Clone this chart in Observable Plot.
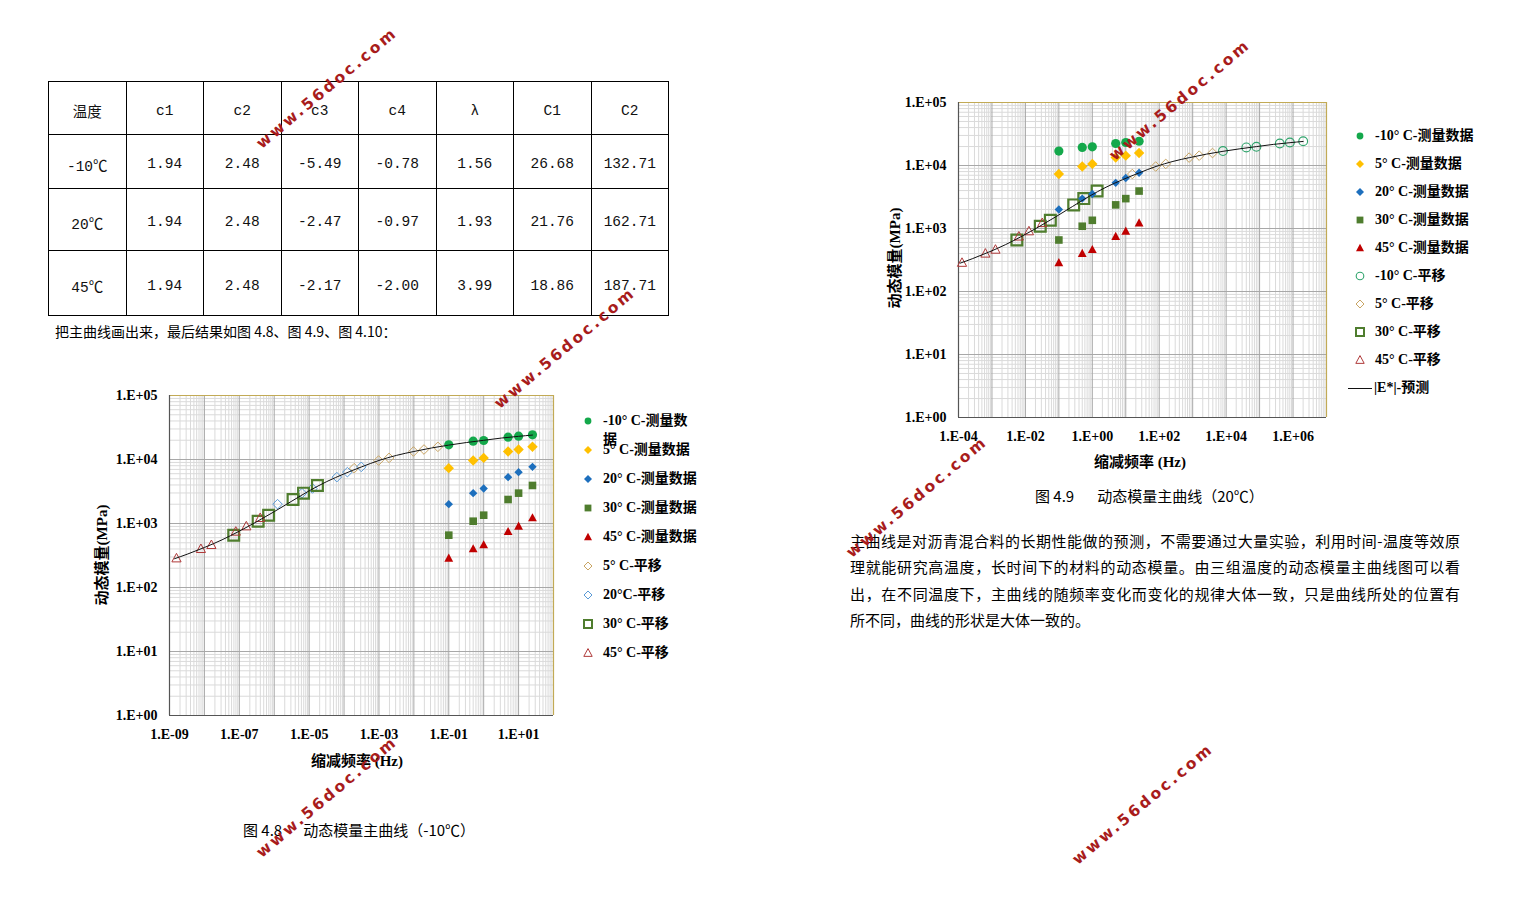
<!DOCTYPE html>
<html><head><meta charset="utf-8">
<script src="https://cdn.jsdelivr.net/npm/d3@7"></script>
<script src="https://cdn.jsdelivr.net/npm/@observablehq/plot@0.6"></script>
<style>
html,body{margin:0;padding:0;background:#fff;}
body{width:1514px;height:905px;position:relative;overflow:hidden;font-family:"Noto Sans CJK SC",sans-serif;color:#000;}
.abs{position:absolute;}
table.params{border-collapse:collapse;position:absolute;left:48px;top:81px;table-layout:fixed;width:621px;}
table.params td{border:1px solid #000;text-align:center;padding:5px 0 0 0;font-family:"Liberation Mono","Noto Sans CJK SC",monospace;font-size:14.5px;color:#111;}
.intro{left:55px;top:321px;font-size:14px;white-space:pre;}
.cap{font-size:15px;white-space:pre;}
.para{left:850px;top:528px;width:610px;font-size:15px;line-height:26.3px;}
.para div{text-align:justify;text-align-last:justify;}
.para div.last{text-align-last:left;}
.axlab{font-family:"Liberation Serif","Noto Sans CJK SC",serif;font-weight:bold;font-size:15px;white-space:nowrap;}
.leg{font-family:"Liberation Serif","Noto Sans CJK SC",serif;font-weight:bold;font-size:14px;white-space:nowrap;line-height:16px;}
.wm{font-family:"DejaVu Sans",sans-serif;font-weight:bold;font-size:15.5px;letter-spacing:2.8px;color:#a81c1c;white-space:nowrap;transform:translate(-50%,-50%) rotate(-40deg);z-index:10;}
</style>
</head><body>
<script>
// ---------------- DATA ----------------
const tableHeader = ["温度", "c1", "c2", "c3", "c4", "λ", "C1", "C2"];
const tableTemps = ["-10℃", "20℃", "45℃"];
const tableC1 = ["1.94", "1.94", "1.94"];
const tableC2 = ["2.48", "2.48", "2.48"];
const tableC3 = ["-5.49", "-2.47", "-2.17"];
const tableC4 = ["-0.78", "-0.97", "-2.00"];
const tableLambda = ["1.56", "1.93", "3.99"];
const tableBigC1 = ["26.68", "21.76", "18.86"];
const tableBigC2 = ["132.71", "162.71", "187.71"];

// measured loading frequencies (Hz)
const freq = [0.1, 0.5, 1, 5, 10, 25];
// measured dynamic modulus (MPa)
const modM10 = [16950, 19330, 19800, 22340, 23180, 24270];
const mod5   = [7320, 9640, 10600, 13340, 14330, 15780];
const mod20  = [2005, 2980, 3525, 5300, 6340, 7670];
const mod30  = [657, 1086, 1349, 2371, 2980, 3930];
const mod45  = [287, 402, 464, 750, 908, 1227];
// log10 shift factors, relative to -10 °C
const shiftM10 = 0, shift5 = -2.71, shift20 = -4.905, shift30 = -6.16, shift45 = -7.80;
// master curve (reduced frequency at -10 °C, MPa)
const curveFreq = [1.4e-9, 3.2e-9, 1e-8, 3.2e-8, 1e-7, 3.2e-7, 1e-6, 3.2e-6, 1e-5, 3.2e-5, 1e-4, 3.2e-4, 1e-3, 3.2e-3, 1e-2, 3.2e-2, 0.1, 0.32, 1, 3.2, 10, 25];
const curveMod  = [282, 331, 422, 556, 759, 1072, 1531, 2239, 3236, 4519, 5957, 7674, 9661, 11610, 13340, 15140, 16790, 18410, 19950, 21630, 23010, 24100];

const ticks48 = [1e-9, 1e-7, 1e-5, 1e-3, 1e-1, 1e1];
const ticks49 = [1e-4, 1e-2, 1, 1e2, 1e4, 1e6];
const ticksY = [1, 10, 100, 1000, 10000, 100000];

// ---------------- HELPERS ----------------
const C = {
  green: "#14a84b", yellow: "#ffc000", blue: "#1d6fbd", olive: "#4f7d2e", red: "#c00000",
  tan: "#c9a564", lblue: "#5a9ad6", hred: "#b03a3a", hgreen: "#2fa46c",
  frame: "#c2aa55", axis: "#555", major: "#a8a8a8", minor: "#dadada"
};
const sq = s => Math.sqrt(s / Math.PI);
const SYM = {
  circle: {draw(c, s){const h=sq(s); c.moveTo(h,0); c.arc(0,0,h,0,2*Math.PI); c.closePath();}},
  diamond: {draw(c, s){const h=sq(s); c.moveTo(0,-h); c.lineTo(h,0); c.lineTo(0,h); c.lineTo(-h,0); c.closePath();}},
  square: {draw(c, s){const h=sq(s); c.rect(-h,-h,2*h,2*h);}},
  triangle: {draw(c, s){const h=sq(s); c.moveTo(0,-h*1.05); c.lineTo(h,h*0.8); c.lineTo(-h,h*0.8); c.closePath();}}
};
const fmtE = d => { const e = Math.round(Math.log10(d)); return "1.E" + (e < 0 ? "-" : "+") + String(Math.abs(e)).padStart(2, "0"); };
const rows = (f, m, s) => f.map((v, i) => ({f: v * Math.pow(10, s), E: m[i]}));
function grids(lo, hi) {
  const major = [], minor = [];
  for (let e = lo; e <= hi; e++) { major.push(Math.pow(10, e)); if (e < hi) for (let k = 2; k <= 9; k++) minor.push(k * Math.pow(10, e)); }
  return {major, minor};
}
function el(tag, cls, text, style) {
  const d = document.createElement(tag); if (cls) d.className = cls; if (text != null) d.textContent = text;
  if (style) Object.assign(d.style, style); document.body.appendChild(d); return d;
}

// ---------------- TABLE ----------------
{
  const t = document.createElement("table"); t.className = "params";
  const cg = document.createElement("colgroup");
  for (let i = 0; i < 8; i++) { const c = document.createElement("col"); c.style.width = "77.5px"; cg.appendChild(c); }
  t.appendChild(cg);
  const heights = [53, 54, 62, 65];
  const addRow = (cells, h) => { const tr = document.createElement("tr"); tr.style.height = h + "px";
    cells.forEach(v => { const td = document.createElement("td"); td.textContent = v; tr.appendChild(td); }); t.appendChild(tr); };
  addRow(tableHeader, heights[0]);
  tableTemps.forEach((tt, i) => addRow([tt, tableC1[i], tableC2[i], tableC3[i], tableC4[i], tableLambda[i], tableBigC1[i], tableBigC2[i]], heights[i + 1]));
  document.body.appendChild(t);
}
el("div", "abs intro", "把主曲线画出来，最后结果如图 4.8、图 4.9、图 4.10：");

// ---------------- CHART FACTORY ----------------
function chart({left, top, width, height, mL, mR, mT, mB, xDomain, xTicks, lo, hi, series, curveShift}) {
  const gx = grids(lo, hi), gy = grids(0, 5);
  const curve = rows(curveFreq, curveMod, curveShift);
  const marks = [
    Plot.ruleX(gx.minor, {stroke: C.minor, strokeWidth: 1}),
    Plot.ruleY(gy.minor, {stroke: C.minor, strokeWidth: 1}),
    Plot.ruleX(gx.major, {stroke: C.major, strokeWidth: 1}),
    Plot.ruleY(gy.major, {stroke: C.major, strokeWidth: 1}),
    Plot.ruleY([1e5], {stroke: C.frame, strokeWidth: 1.2}),
    Plot.ruleX([xDomain[1]], {stroke: C.frame, strokeWidth: 1.2}),
    Plot.ruleX([xDomain[0]], {stroke: C.axis, strokeWidth: 1.2}),
    Plot.ruleY([1], {stroke: C.axis, strokeWidth: 1.2})
  ];
  for (const s of series) {
    marks.push(Plot.dot(s.data, {x: "f", y: "E", symbol: s.sym, r: s.r, fill: s.fill || "none", stroke: s.stroke || "none", strokeWidth: s.sw || 1}));
  }
  marks.push(Plot.line(curve, {x: "f", y: "E", stroke: "#111", strokeWidth: 1, curve: "monotone-x"}));
  const svg = Plot.plot({
    width, height, marginLeft: mL, marginRight: mR, marginTop: mT, marginBottom: mB,
    style: {fontFamily: "'Liberation Serif', serif", fontSize: "14px", fontWeight: "bold", background: "transparent", overflow: "visible", color: "#000"},
    x: {type: "log", domain: xDomain, ticks: xTicks, tickFormat: fmtE, tickSize: 0, tickPadding: 14, label: null},
    y: {type: "log", domain: [1, 1e5], ticks: ticksY, tickFormat: fmtE, tickSize: 0, tickPadding: 12, label: null},
    marks
  });
  svg.style.position = "absolute"; svg.style.left = left + "px"; svg.style.top = top + "px";
  document.body.appendChild(svg);
}

// ---- Fig 4.8 (reference -10 °C)
chart({
  left: 80, top: 380, width: 480, height: 400, mL: 89, mR: 7, mT: 15, mB: 65,
  xDomain: [1e-9, 1e2], xTicks: ticks48, lo: -9, hi: 2, curveShift: 0,
  series: [
    {data: rows(freq, mod5, shift5), sym: SYM.diamond, r: 4.8, stroke: C.tan, sw: 1},
    {data: rows(freq, mod20, shift20), sym: SYM.diamond, r: 4.8, stroke: C.lblue, sw: 1},
    {data: rows(freq, mod30, shift30), sym: SYM.square, r: 5.4, stroke: C.olive, sw: 2.2},
    {data: rows(freq, mod45, shift45), sym: SYM.triangle, r: 4.6, stroke: C.hred, sw: 1},
    {data: rows(freq, modM10, 0), sym: SYM.circle, r: 4.6, fill: C.green},
    {data: rows(freq, mod5, 0), sym: SYM.diamond, r: 5.2, fill: C.yellow},
    {data: rows(freq, mod20, 0), sym: SYM.diamond, r: 4.2, fill: C.blue},
    {data: rows(freq, mod30, 0), sym: SYM.square, r: 3.8, fill: C.olive},
    {data: rows(freq, mod45, 0), sym: SYM.triangle, r: 4.4, fill: C.red}
  ]
});

// ---- Fig 4.9 (reference 20 °C)
chart({
  left: 880, top: 90, width: 455, height: 390, mL: 78, mR: 9, mT: 12, mB: 63,
  xDomain: [1e-4, 1e7], xTicks: ticks49, lo: -4, hi: 7, curveShift: -shift20,
  series: [
    {data: rows(freq, modM10, shiftM10 - shift20), sym: SYM.circle, r: 4.4, stroke: C.hgreen, sw: 1.1},
    {data: rows(freq, mod5, shift5 - shift20), sym: SYM.diamond, r: 4.8, stroke: C.tan, sw: 1},
    {data: rows(freq, mod30, shift30 - shift20), sym: SYM.square, r: 5.4, stroke: C.olive, sw: 2.2},
    {data: rows(freq, mod45, shift45 - shift20), sym: SYM.triangle, r: 4.6, stroke: C.hred, sw: 1},
    {data: rows(freq, modM10, 0), sym: SYM.circle, r: 4.6, fill: C.green},
    {data: rows(freq, mod5, 0), sym: SYM.diamond, r: 5.2, fill: C.yellow},
    {data: rows(freq, mod20, 0), sym: SYM.diamond, r: 4.2, fill: C.blue},
    {data: rows(freq, mod30, 0), sym: SYM.square, r: 3.8, fill: C.olive},
    {data: rows(freq, mod45, 0), sym: SYM.triangle, r: 4.4, fill: C.red}
  ]
});

// ---------------- AXIS LABELS ----------------
function axLab(text, cx, cy, rot) {
  const d = el("div", "abs axlab", text);
  d.style.left = cx + "px"; d.style.top = cy + "px";
  d.style.transform = "translate(-50%,-50%)" + (rot ? " rotate(-90deg)" : "");
}
axLab("缩减频率 (Hz)", 357, 759, false);
axLab("动态模量(MPa)", 100, 555, true);
axLab("缩减频率 (Hz)", 1140, 460, false);
axLab("动态模量(MPa)", 893, 258, true);

// ---------------- LEGENDS ----------------
function legendItem(x, y, spec, text) {
  const svgNS = "http://www.w3.org/2000/svg";
  const s = document.createElementNS(svgNS, "svg");
  s.setAttribute("width", 16); s.setAttribute("height", 16);
  Object.assign(s.style, {position: "absolute", left: (x - 8) + "px", top: (y - 8) + "px", overflow: "visible"});
  const p = document.createElementNS(svgNS, "path");
  const r = spec.lr;
  p.setAttribute("d", d3.symbol(spec.sym, r * r * Math.PI)());
  p.setAttribute("transform", "translate(8,8)");
  p.setAttribute("fill", spec.fill || "none");
  p.setAttribute("stroke", spec.stroke || "none");
  p.setAttribute("stroke-width", spec.sw || 1);
  s.appendChild(p); document.body.appendChild(s);
  const t = el("div", "abs leg", text); t.style.left = (x + 15) + "px"; t.style.top = (y - 8) + "px";
}
const L = {
  m10: {sym: SYM.circle, lr: 3.4, fill: C.green},
  m5: {sym: SYM.diamond, lr: 4, fill: C.yellow},
  m20: {sym: SYM.diamond, lr: 4, fill: C.blue},
  m30: {sym: SYM.square, lr: 3.4, fill: C.olive},
  m45: {sym: SYM.triangle, lr: 4, fill: C.red},
  hm10: {sym: SYM.circle, lr: 3.8, stroke: C.hgreen, sw: 1.1},
  h5: {sym: SYM.diamond, lr: 4, stroke: C.tan},
  h20: {sym: SYM.diamond, lr: 4, stroke: C.lblue},
  h30: {sym: SYM.square, lr: 4, stroke: C.olive, sw: 2},
  h45: {sym: SYM.triangle, lr: 4.2, stroke: C.hred}
};
const leg48 = [[L.m10, "-10° C-测量数"], [L.m5, "5° C-测量数据"], [L.m20, "20° C-测量数据"], [L.m30, "30° C-测量数据"], [L.m45, "45° C-测量数据"], [L.h5, "5° C-平移"], [L.h20, "20°C-平移"], [L.h30, "30° C-平移"], [L.h45, "45° C-平移"]];
leg48.forEach((it, i) => legendItem(588, 421 + i * 29, it[0], it[1]));
{ const t = el("div", "abs leg", "据"); t.style.left = "603px"; t.style.top = "432px"; }
const leg49 = [[L.m10, "-10° C-测量数据"], [L.m5, "5° C-测量数据"], [L.m20, "20° C-测量数据"], [L.m30, "30° C-测量数据"], [L.m45, "45° C-测量数据"], [L.hm10, "-10° C-平移"], [L.h5, "5° C-平移"], [L.h30, "30° C-平移"], [L.h45, "45° C-平移"]];
leg49.forEach((it, i) => legendItem(1360, 136 + i * 28, it[0], it[1]));
el("div", "abs", null, {left: "1348px", top: "388px", width: "24px", height: "0", borderTop: "1px solid #111"});
{ const t = el("div", "abs leg", "|E*|-预测"); t.style.left = "1374px"; t.style.top = "380px"; }

// ---------------- CAPTIONS & TEXT ----------------
{ const c = el("div", "abs cap", null); c.style.left = "243px"; c.style.top = "819px";
  c.innerHTML = '图 4.8<span style="display:inline-block;width:21px"></span>动态模量主曲线（-10℃）'; }
{ const c = el("div", "abs cap", null); c.style.left = "1035px"; c.style.top = "485px";
  c.innerHTML = '图 4.9<span style="display:inline-block;width:23px"></span>动态模量主曲线（20℃）'; }
{
  const p = el("div", "abs para", null);
  const lines = [
    "主曲线是对沥青混合料的长期性能做的预测，不需要通过大量实验，利用时间-温度等效原",
    "理就能研究高温度，长时间下的材料的动态模量。由三组温度的动态模量主曲线图可以看",
    "出，在不同温度下，主曲线的随频率变化而变化的规律大体一致，只是曲线所处的位置有",
    "所不同，曲线的形状是大体一致的。"
  ];
  lines.forEach((l, i) => { const d = document.createElement("div"); d.textContent = l; if (i === 3) d.className = "last"; p.appendChild(d); });
}

// ---------------- WATERMARKS ----------------
[[327, 88], [565, 348], [917, 497], [1180, 100], [327, 797], [1143, 804]].forEach(([x, y]) => {
  const w = el("div", "abs wm", "www.56doc.com"); w.style.left = x + "px"; w.style.top = y + "px";
});
</script>
</body></html>
